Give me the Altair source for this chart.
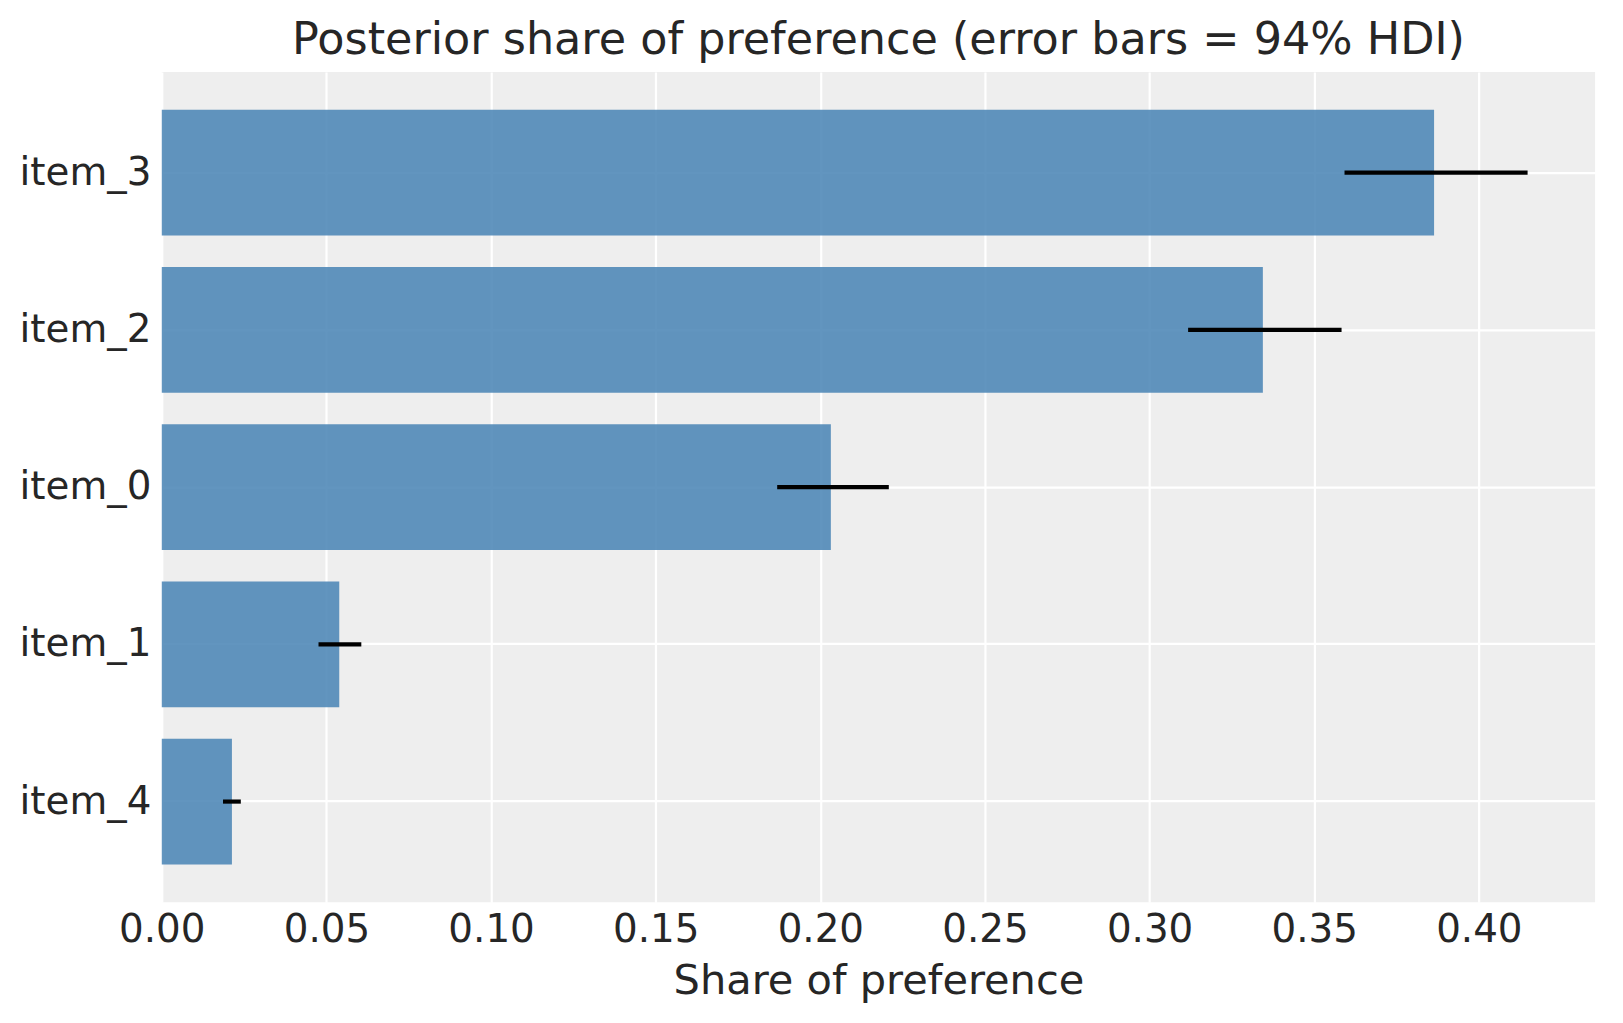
import altair as alt
import pandas as pd

items = ["item_3", "item_2", "item_0", "item_1", "item_4"]
means = [0.3864, 0.3344, 0.2032, 0.0539, 0.0213]
hdi_low = [0.3592, 0.3117, 0.1869, 0.0476, 0.0186]
hdi_high = [0.4148, 0.3583, 0.2208, 0.0606, 0.0240]
x_ticks = [0.00, 0.05, 0.10, 0.15, 0.20, 0.25, 0.30, 0.35, 0.40]

df = pd.DataFrame({"item": items, "mean": means, "lo": hdi_low, "hi": hdi_high})

FONT = "DejaVu Sans"
TEXT = "#262626"

yscale = alt.Scale(domain=items, paddingInner=0.2, paddingOuter=0.24)
xscale = alt.Scale(domain=[0, 0.4353], nice=False, zero=True)

base = alt.Chart(df)

bars = base.mark_bar(color="steelblue", opacity=0.85).encode(
    y=alt.Y("item:N", scale=yscale, sort=items,
            axis=alt.Axis(title=None, labelFontSize=39, labelPadding=11, ticks=False,
                          domain=False, grid=True, gridColor="white", gridWidth=2.2,
                          gridOpacity=1, bandPosition=0.5, labelColor=TEXT, labelFont=FONT)),
    x=alt.X("mean:Q", scale=xscale,
            axis=alt.Axis(title="Share of preference", values=x_ticks, format=".2f",
                          labelFontSize=39, titleFontSize=41.7, labelPadding=8, titlePadding=12,
                          ticks=False, domain=False, grid=True, gridColor="white", gridWidth=2.2,
                          gridOpacity=1, labelColor=TEXT, titleColor=TEXT, labelFont=FONT,
                          titleFont=FONT, titleFontWeight="normal", labelFlush=False)),
)

errs = base.mark_rule(color="black", strokeWidth=4.2).encode(
    y=alt.Y("item:N", scale=yscale, sort=items),
    x=alt.X("lo:Q", scale=xscale),
    x2="hi:Q",
)

chart = alt.layer(bars, errs).properties(
    width=1440,
    height=834,
    title=alt.TitleParams("Posterior share of preference (error bars = 94% HDI)",
                          fontSize=44.7, font=FONT, color=TEXT, fontWeight="normal",
                          anchor="middle", offset=8),
    autosize=alt.AutoSizeParams(type="none"),
    padding={"left": 154.5, "top": 62, "right": 20, "bottom": 118},
).configure(background="white").configure_view(fill="#eeeeee", stroke=None)

chart.save("out.html", embed_options={"renderer": "svg", "actions": False})
